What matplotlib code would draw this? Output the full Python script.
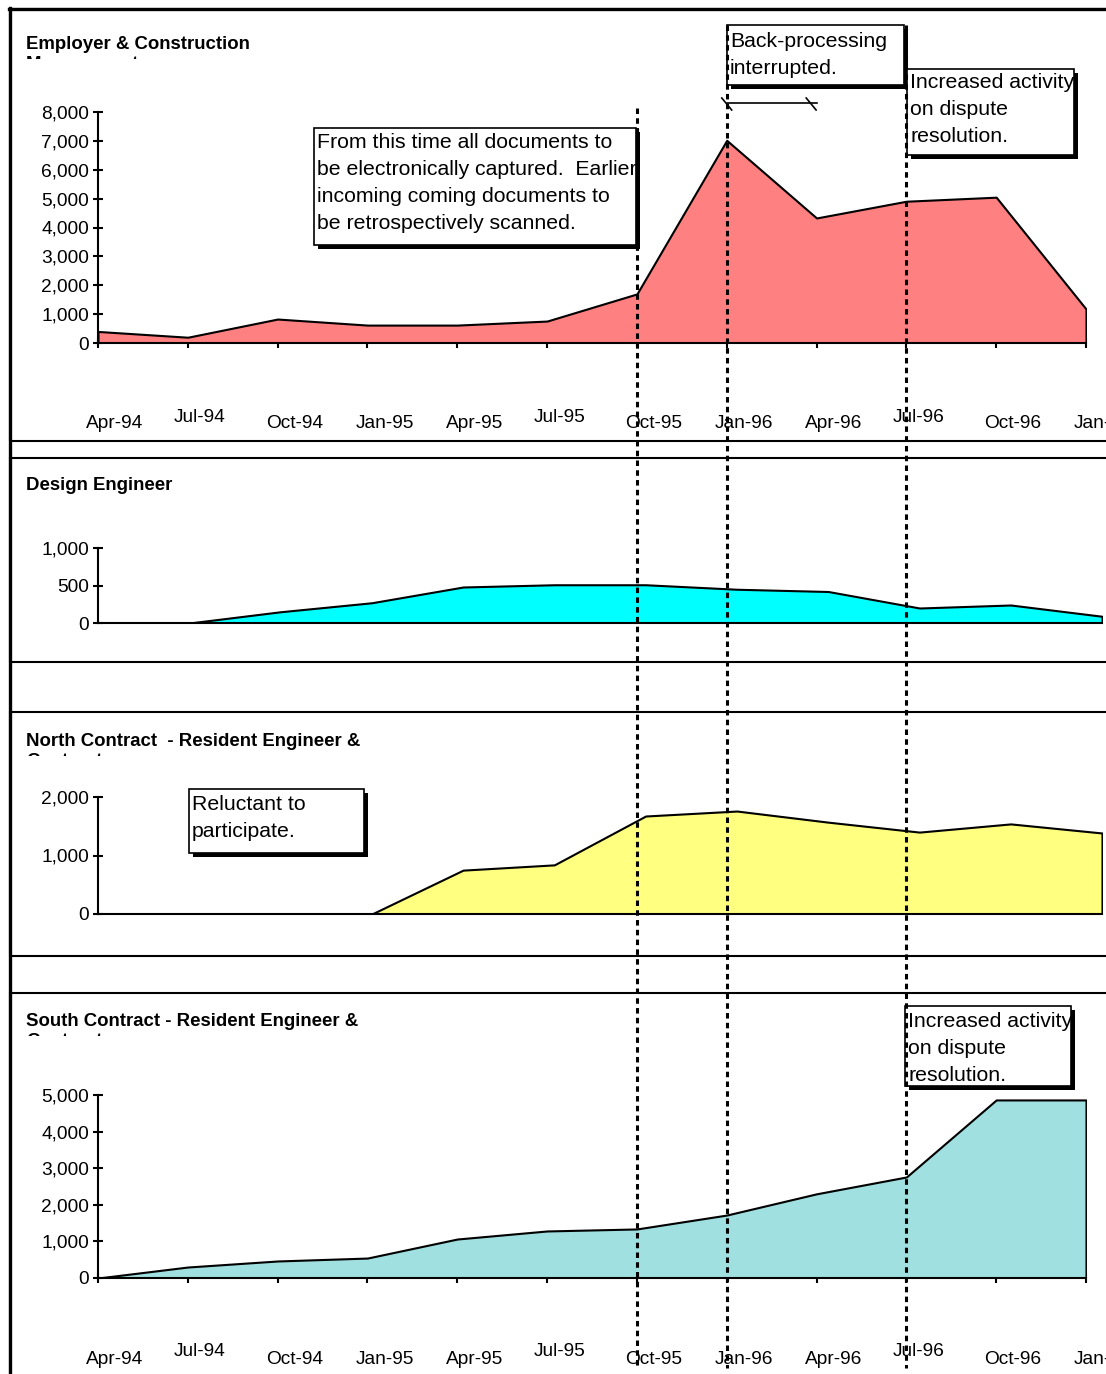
import matplotlib
matplotlib.use("Agg")
import matplotlib.pyplot as plt
from matplotlib.patches import Rectangle
from matplotlib.lines import Line2D
from matplotlib.ticker import FuncFormatter
from matplotlib.transforms import Bbox, TransformedBbox, blended_transform_factory

plt.rcParams["font.family"] = ["Liberation Sans", "DejaVu Sans"]

# quarterly document counts
months = ["Apr-94", "Jul-94", "Oct-94", "Jan-95", "Apr-95", "Jul-95",
          "Oct-95", "Jan-96", "Apr-96", "Jul-96", "Oct-96", "Jan-97"]
employer = [400, 200, 830, 620, 620, 760, 1700, 7020, 4330, 4910, 5050, 1180]
design = [0, 0, 150, 270, 480, 510, 510, 450, 420, 200, 240, 90]
north = [0, 0, 0, 0, 750, 840, 1675, 1760, 1570, 1400, 1540, 1385]
south = [0, 300, 465, 545, 1065, 1285, 1340, 1720, 2300, 2760, 4865, 4865]

# events marked by dotted lines across all panels
event_months = ["Oct-95", "Jan-96", "Jul-96"]
backlog_span = ("Jan-96", "Apr-96")

W, H = 1106, 1374
fig = plt.figure(figsize=(W / 100, H / 100), dpi=100)
FS_TITLE = 13.4
FS_TICK = 13.8
FS_NOTE = 15.3


def fy(y):
    return 1 - y / H


def fx(x):
    return x / W


def axes_at(x0, y0, x1, y1):
    return fig.add_axes([fx(x0), fy(y1), (x1 - x0) / W, (y1 - y0) / H])


def panel_frame(top, bottom):
    fig.add_artist(Rectangle((fx(10), fy(bottom)), fx(1120) - fx(10), (bottom - top) / H,
                             transform=fig.transFigure, fill=False,
                             edgecolor="black", linewidth=1.5))


def title(text, baseline, clip_y, second=None):
    fig.text(fx(26), fy(baseline), text, fontsize=FS_TITLE, fontweight="bold",
             va="baseline", ha="left")
    if second:
        t = fig.text(fx(26), fy(baseline + 20), second, fontsize=FS_TITLE,
                     fontweight="bold", va="baseline", ha="left")
        t.set_clip_box(TransformedBbox(Bbox.from_extents(0, fy(clip_y), 1, fy(baseline)),
                                       fig.transFigure))
        t.set_clip_on(True)


def note(x0, y0, x1, y1, lines, first_baseline):
    fig.add_artist(Rectangle((fx(x0 + 4), fy(y1 + 4)), (x1 - x0) / W, (y1 - y0) / H,
                             transform=fig.transFigure, facecolor="black",
                             edgecolor="black", linewidth=0, zorder=20))
    box = Rectangle((fx(x0), fy(y1)), (x1 - x0) / W, (y1 - y0) / H,
                    transform=fig.transFigure, facecolor="white",
                    edgecolor="black", linewidth=1.2, zorder=21)
    fig.add_artist(box)
    for k, line in enumerate(lines):
        t = fig.text(fx(x0 + 3), fy(first_baseline + 27 * k), line, fontsize=FS_NOTE,
                     va="baseline", ha="left", zorder=22)
        t.set_clip_path(box)


def style_axes(ax, values, color, ymax, yticks, xticks):
    x = range(len(values))
    ax.fill_between(x, values, 0, facecolor=color, edgecolor="black",
                    linewidth=1.5, zorder=2)
    ax.set_xlim(0, len(values) - 1)
    ax.set_ylim(0, ymax)
    ax.patch.set_alpha(0)
    for s in ("top", "right"):
        ax.spines[s].set_visible(False)
    ax.spines["left"].set_linewidth(1.5)
    ax.spines["bottom"].set_linewidth(1.5)
    ax.set_yticks(yticks)
    ax.yaxis.set_major_formatter(FuncFormatter(lambda v, p: f"{v:,.0f}"))
    ax.tick_params(axis="y", direction="inout", length=7, width=1.5,
                   labelsize=FS_TICK, pad=3)
    if xticks:
        ax.set_xticks(list(x))
        ax.set_xticklabels([])
        ax.tick_params(axis="x", direction="inout", length=7, width=1.5)
        for i, m in enumerate(months):
            jul = m.startswith("Jul")
            ax.annotate(m, xy=(i, 0), xycoords=("data", "axes fraction"),
                        xytext=(12 if jul else 17, -74 if jul else -81),
                        textcoords="offset pixels",
                        ha="center", va="center", fontsize=FS_TICK,
                        annotation_clip=False)
    else:
        ax.set_xticks([])


# panel frames
panel_frame(9, 441)
panel_frame(458, 662)
panel_frame(712, 956)
panel_frame(993, 1400)
fig.add_artist(Line2D([fx(10), fx(10)], [fy(8), 0], transform=fig.transFigure,
                      color="black", linewidth=2.4))
fig.add_artist(Line2D([fx(9), 1], [fy(9), fy(9)], transform=fig.transFigure,
                      color="black", linewidth=2.4))

ax1 = axes_at(98, 112, 1086, 343)
style_axes(ax1, employer, "#FF8080", 8000, range(0, 8001, 1000), True)

ax2 = axes_at(98, 548, 1102, 623)
style_axes(ax2, design, "#00FFFF", 1000, [0, 500, 1000], False)

ax3 = axes_at(98, 797, 1102, 914)
style_axes(ax3, north, "#FFFF80", 2000, [0, 1000, 2000], False)

ax4 = axes_at(98, 1095, 1086, 1278)
style_axes(ax4, south, "#A0E0E0", 5000, range(0, 5001, 1000), True)

title("Employer & Construction", 49, 59, "Management")
title("Design Engineer", 490, 500)
title("North Contract  - Resident Engineer &", 746, 756, "Contractor")
title("South Contract - Resident Engineer &", 1026, 1036, "Contractor")

# annotation boxes
note(314, 128, 636, 245,
     ["From this time all documents to",
      "be electronically captured.  Earlier",
      "incoming coming documents to",
      "be retrospectively scanned."], 148)
note(727, 25, 904, 85, ["Back-processing", "interrupted."], 47)
note(907, 69, 1074, 155, ["Increased activity", "on dispute", "resolution."], 88)
note(189, 789, 364, 853, ["Reluctant to", "participate."], 810)
note(905, 1006, 1071, 1086, ["Increased activity", "on dispute", "resolution."], 1027)

# dotted event lines through every panel
ev = blended_transform_factory(ax1.transData, fig.transFigure)
starts = {"Oct-95": 108, "Jan-96": 25, "Jul-96": 25}
for m in event_months:
    i = months.index(m)
    fig.add_artist(Line2D([i, i], [fy(starts[m]), fy(1368)], transform=ev,
                          color="black", linewidth=2.2,
                          linestyle=(0, (1.8, 1.4)), zorder=30))

# span marker for the back-processing interruption
a, b = months.index(backlog_span[0]), months.index(backlog_span[1])
fig.add_artist(Line2D([a, b], [fy(103), fy(103)], transform=ev,
                      color="black", linewidth=1.2, zorder=30))
for i in (a, b - 0.06):
    fig.add_artist(Line2D([i - 0.055, i + 0.055], [fy(98), fy(110)], transform=ev,
                          color="black", linewidth=1.2, zorder=30))

fig.savefig("out.png", dpi=100)
